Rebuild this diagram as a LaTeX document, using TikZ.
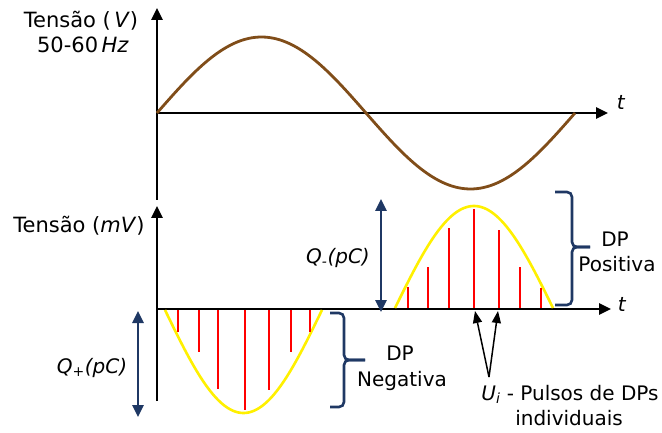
\documentclass[tikz,border=0pt]{standalone}
\usepackage{fontspec}
\setmainfont{DejaVu Sans}
\usetikzlibrary{arrows.meta}
\definecolor{wavebrown}{RGB}{128,77,25}
\definecolor{navy}{RGB}{31,56,100}
\definecolor{pdyellow}{RGB}{255,240,0}
\begin{document}
\begin{tikzpicture}[x=1pt,y=-1pt,
  axis/.style={line width=2.6pt,-{Triangle[length=12pt,width=11pt]}},
  lbl/.style={inner sep=0pt,anchor=base,font=\fontsize{20}{24}\selectfont},
  biglbl/.style={lbl,font=\fontsize{21}{25}\selectfont},
  wave/.style={line width=2.8pt,color=wavebrown},
  envelope/.style={line width=2.6pt,color=pdyellow},
  pulse/.style={line width=2.5pt,color=red},
  qarrow/.style={line width=2.6pt,color=navy,{Triangle[length=12pt,width=11pt]}-{Triangle[length=12pt,width=11pt]}},
  bracebox/.style={line width=2.6pt,color=navy,rounded corners=5pt},
  uarrow/.style={line width=1.5pt,-{Triangle[length=12pt,width=9pt]}}]
\useasboundingbox (0,0) rectangle (662,433);

% upper plot
\coordinate (o1) at (157,113);
\coordinate (y1b) at (157,200);
\coordinate (y1t) at (157,8);
\coordinate (x1e) at (608,113);
\draw[axis] (y1b) -- (y1t);
\draw[axis] (o1) -- (x1e);
\draw[wave] plot[domain=0:418,samples=120,smooth] ({157+\x},{113-76*sin(0.86124*\x)});
\node[lbl] (t1) at (621,110) {\textit{t}};
\node[biglbl] (v1a) at (81,28) {Tensão (\,\textit{V})};
\node[biglbl] (v1b) at (83,53) {50-60\,\textit{Hz}};

% lower plot
\coordinate (o2) at (157,309);
\coordinate (y2b) at (157,401);
\coordinate (y2t) at (157,206);
\coordinate (x2e) at (611,309);
\draw[axis] (y2b) -- (y2t);
\draw[axis] (o2) -- (x2e);
\node[lbl] (t2) at (622,311) {\textit{t}};
\node[biglbl] (v2) at (79,233) {Tensão (\textit{mV})};

% negative half
\draw[envelope] plot[domain=0:157,samples=80,smooth] ({165+\x},{310+103*sin(1.14650*\x)});
\foreach \px/\py in {178/332,199/352,218/389,245/410,269/390,291/352,310/332}
  \draw[pulse] (\px,310) -- (\px,\py);

% positive half
\draw[envelope] plot[domain=0:158,samples=80,smooth] ({395+\x},{308-102*sin(1.13924*\x)});
\foreach \px/\py in {408/287,428/267,449/228,474/209,499/230,520/267,541/288}
  \draw[pulse] (\px,308) -- (\px,\py);

% charge arrows
\coordinate (qmt) at (381,199);
\coordinate (qmb) at (381,312);
\draw[qarrow] (qmt) -- (qmb);
\node[lbl] (qm) at (338,263) {\textit{Q}\textsubscript{\textit{-}}\textit{(pC)}};
\coordinate (qpt) at (138,311);
\coordinate (qpb) at (138,417);
\draw[qarrow] (qpt) -- (qpb);
\node[lbl] (qp) at (92,373) {\textit{Q}\textsubscript{\textit{+}}\textit{(pC)}};

% braces
\coordinate (bnt) at (330,313);
\coordinate (bnb) at (330,407);
\coordinate (bnm) at (344,360);
\coordinate (bntip) at (365,360);
\draw[bracebox] (bnt) -| (bnm) -- (bntip);
\draw[bracebox] (bnb) -| (bnm) -- (bntip);
\node[lbl] (dpn1) at (400,360) {DP};
\node[lbl] (dpn2) at (402,386) {Negativa};
\coordinate (bpt) at (555,192);
\coordinate (bpb) at (555,305);
\coordinate (bpm) at (572,247);
\coordinate (bptip) at (590,247);
\draw[bracebox] (bpt) -| (bpm) -- (bptip);
\draw[bracebox] (bpb) -| (bpm) -- (bptip);
\node[lbl] (dpp1) at (615,247) {DP};
\node[lbl] (dpp2) at (617,272) {Positiva};

% individual pulses
\coordinate (ui) at (489,377);
\coordinate (p1) at (475,311);
\coordinate (p2) at (498,311);
\draw[uarrow] (ui) -- (p1);
\draw[uarrow] (ui) -- (p2);
\node[lbl] (u1) at (570,400) {\textit{U}\textsubscript{\textit{i}} - Pulsos de DPs};
\node[lbl] (u2) at (569,425) {individuais};
\end{tikzpicture}
\end{document}
